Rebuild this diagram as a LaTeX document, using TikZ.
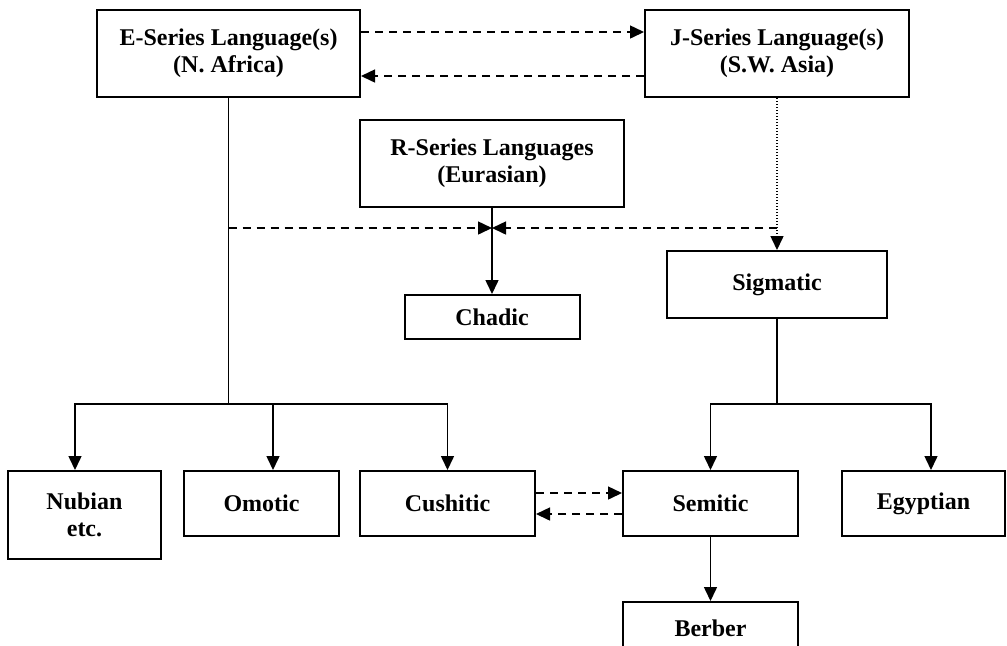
\documentclass[tikz,border=0pt]{standalone}
\usepackage{fontspec}
\setmainfont{Liberation Serif}
\usetikzlibrary{arrows.meta}

\begin{document}
\begin{tikzpicture}[x=0.5pt,y=-0.5pt,
    caja/.style={draw,line width=1pt,align=center,inner sep=0pt,
        font=\bfseries\fontsize{12}{13.5}\selectfont},
    flecha/.style={-{Triangle[length=7pt,width=6.5pt]},line width=0.75pt},
    trazos/.style={dash pattern=on 4pt off 3pt},
    puntos/.style={line width=0.5pt,dash pattern=on 0.6pt off 0.9pt}]
    % Marco
    \useasboundingbox (0,0) rectangle (1007,645);
    \fill[white] (0,0) rectangle (1007,645);
    \clip (0,0) rectangle (1007,645);

    % Cajas superiores
    \node[caja,minimum width=131.5pt,minimum height=43.5pt] (eser) at (228.5,53.5) {E-Series Language(s)\\(N. Africa)};
    \node[caja,minimum width=132pt,minimum height=43.5pt] (jser) at (777,53.5) {J-Series Language(s)\\(S.W. Asia)};
    \node[caja,minimum width=132pt,minimum height=43.5pt] (rser) at (492,163.5) {R-Series Languages\\(Eurasian)};
    \node[caja,minimum width=87.5pt,minimum height=22pt] (chad) at (492,317) {Chadic};
    \node[caja,minimum width=110pt,minimum height=33.5pt] (sigm) at (777,284.5) {Sigmatic};

    % Cajas inferiores
    \node[caja,minimum width=76.5pt,minimum height=44pt] (nubi) at (84.5,515) {Nubian\\etc.};
    \node[caja,minimum width=77.5pt,minimum height=32.5pt] (omot) at (261.5,503.5) {Omotic};
    \node[caja,minimum width=87.5pt,minimum height=32.5pt] (cush) at (447.5,503.5) {Cushitic};
    \node[caja,minimum width=87.5pt,minimum height=32.5pt] (semi) at (710.5,503.5) {Semitic};
    \node[caja,minimum width=81.5pt,minimum height=32.5pt] (egyp) at (923.5,503.5) {Egyptian};
    \node[caja,minimum width=87.5pt,minimum height=26pt] (berb) at (710.5,628) {Berber};

    % Puntos de ramificación
    \coordinate (ebr) at (228.5,404);
    \coordinate (sbr) at (777,404);
    \coordinate (cruce) at (492,228);
    \coordinate (ecr) at (228.5,228);
    \coordinate (jcr) at (777,228);

    % Contacto E <-> J
    \draw[trazos,flecha] ([yshift=10.75pt]eser.east) -- ([yshift=10.75pt]jser.west);
    \draw[trazos,flecha] ([yshift=-11.25pt]jser.west) -- ([yshift=-11.25pt]eser.east);

    % Rama E
    \draw[line width=0.6pt] (eser.south) -- (ebr);
    \foreach \n/\dx in {nubi/-4.75pt, omot/5.75pt, cush/0pt} {
        \draw[flecha] (ebr) -| ([xshift=\dx]\n.north);
    }

    % Rama R
    \draw[flecha] (rser.south) -- (chad.north);
    \draw[trazos,flecha] (ecr) -- (cruce);
    \draw[trazos,flecha] (jcr) -- (cruce);

    % Rama J
    \draw[puntos,flecha] (jser.south) -- (sigm.north);
    \draw[line width=0.6pt] (sigm.south) -- (sbr);
    \foreach \n/\dx in {semi/0pt, egyp/3.75pt} {
        \draw[flecha] (sbr) -| ([xshift=\dx]\n.north);
    }
    \draw[flecha] (semi.south) -- (berb.north);

    % Contacto Cushitic <-> Semitic
    \draw[trazos,flecha] ([yshift=5.25pt]cush.east) -- ([yshift=5.25pt]semi.west);
    \draw[trazos,flecha] ([yshift=-5.25pt]semi.west) -- ([yshift=-5.25pt]cush.east);
\end{tikzpicture}
\end{document}
